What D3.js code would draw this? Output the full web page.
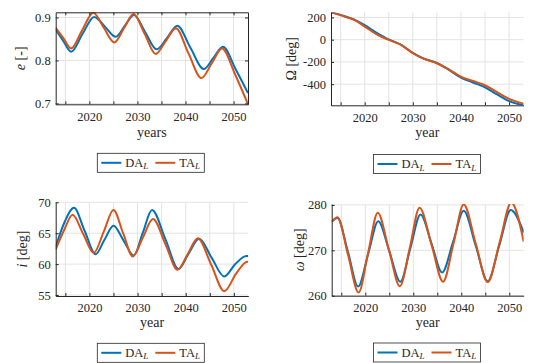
<!DOCTYPE html>
<html>
<head>
<meta charset="utf-8">
<script src="https://cdnjs.cloudflare.com/ajax/libs/d3/7.8.5/d3.min.js"></script>
<style>
  body { margin: 0; background: #fff; }
  .axis path, .axis line { stroke: #262626; }
  .grid line { stroke: #e3e3e3; stroke-width: 1; }
</style>
</head>
<body>
<div id="chart"></div>
<script>
// Eccentricity
var eYearsDA = [2013, 2014.6, 2016.2, 2018.6, 2021, 2023.3, 2025.5, 2027.4, 2029.3, 2031.6, 2034, 2036.2, 2038.3, 2041, 2043.8, 2045.8, 2047.8, 2050.4, 2053];
var eDA = [0.872, 0.845, 0.820, 0.862, 0.901, 0.878, 0.855, 0.881, 0.906, 0.866, 0.826, 0.853, 0.881, 0.830, 0.780, 0.806, 0.832, 0.780, 0.724];
var eYearsTA = [2013, 2014.6, 2016.2, 2018.5, 2020.8, 2023, 2025.2, 2027.2, 2029.2, 2031.5, 2033.8, 2035.9, 2038, 2040.6, 2043.3, 2045.5, 2047.6, 2050.3, 2053];
var eTA = [0.876, 0.852, 0.828, 0.870, 0.911, 0.876, 0.842, 0.875, 0.908, 0.862, 0.815, 0.845, 0.875, 0.817, 0.759, 0.794, 0.828, 0.768, 0.698];

// RAAN
var omYears = [2013, 2016, 2018, 2020, 2022.5, 2025, 2027.5, 2030, 2032, 2035, 2037, 2040, 2042.5, 2045, 2047.5, 2050, 2053];
var bigOmDA = [246, 208, 178, 130, 62, 2, -45, -118, -165, -210, -258, -340, -385, -428, -492, -552, -590];
var bigOmTA = [246, 205, 174, 118, 48, -2, -45, -122, -166, -212, -255, -333, -372, -410, -472, -533, -575];

// Inclination
var iYearsDA = [2013, 2014.9, 2016.8, 2019, 2021.3, 2023.1, 2025, 2027.1, 2029.2, 2031.1, 2033, 2035.8, 2038.5, 2040.6, 2042.8, 2045.4, 2048, 2050.3, 2052.6, 2053];
var iDA = [62.8, 66.9, 69.1, 65.4, 61.6, 63.9, 66.2, 63.8, 61.4, 65.1, 68.75, 64.0, 59.2, 61.7, 64.1, 61.0, 58.0, 60.0, 61.3, 61.3];
var iYearsTA = [2013, 2014.8, 2016.5, 2018.7, 2020.9, 2023, 2025, 2027, 2029, 2031.1, 2033.2, 2035.8, 2038.3, 2040.4, 2042.5, 2045.3, 2048, 2050.5, 2052.8, 2053];
var iTA = [62.4, 65.6, 68.0, 64.9, 61.8, 65.3, 68.75, 65.0, 61.25, 64.3, 67.3, 63.2, 59.1, 61.6, 64.2, 59.9, 55.6, 58.5, 60.4, 60.4];

// Argument of perigee
var wYearsDA = [2013, 2014.2, 2016.4, 2018.5, 2020.6, 2022.7, 2025, 2027.3, 2029.4, 2031.5, 2033.8, 2036, 2038.3, 2040.5, 2043, 2045.5, 2047.9, 2050.3, 2053];
var wDA = [276.3, 277.1, 269.6, 262.0, 269.2, 276.4, 269.8, 263.1, 270.5, 277.9, 271.5, 265.1, 271.9, 278.7, 271.0, 263.2, 271.0, 278.9, 273.9];
var wYearsTA = [2013, 2014.2, 2016.4, 2018.6, 2020.6, 2022.6, 2024.9, 2027.2, 2029.3, 2031.3, 2033.8, 2036.2, 2038.4, 2040.5, 2043, 2045.5, 2048, 2050.4, 2053];
var wTA = [276.3, 277.3, 269.0, 260.7, 269.5, 278.3, 270.2, 262.1, 270.7, 279.4, 271.2, 263.1, 271.6, 280.1, 271.5, 263.0, 271.8, 280.5, 271.9];

var xTicks = [2015, 2020, 2025, 2030, 2035, 2040, 2045, 2050];
var xLabels = [2020, 2030, 2040, 2050];
var seriesNames = ['DA', 'TA'];
var colors = ['#0072BD', '#D95319'];

var FONT = '"Liberation Serif", "DejaVu Serif", serif';

var svg = d3.select('#chart').append('svg')
    .attr('width', 534)
    .attr('height', 363)
    .style('font-family', FONT);

var zip = (xs, ys) => xs.map((x, k) => [x, ys[k]]);

function drawPanel(p, idx) {
    var w = p.r - p.l, h = p.b - p.t;
    var g = svg.append('g').attr('transform', `translate(${p.l},${p.t})`);

    var x = d3.scaleLinear().domain([2013, 2053]).range([0, w]);
    var y = d3.scaleLinear().domain(p.yDomain).range([h, 0]);

    // grid
    g.append('g').attr('class', 'grid').selectAll('line').data(xTicks).enter().append('line')
        .attr('x1', (d) => x(d)).attr('x2', (d) => x(d)).attr('y1', 0).attr('y2', h);
    g.append('g').attr('class', 'grid').selectAll('line').data(p.yTicks).enter().append('line')
        .attr('y1', (d) => y(d)).attr('y2', (d) => y(d)).attr('x1', 0).attr('x2', w);

    // clip for curves
    g.append('clipPath').attr('id', 'clip' + idx).append('rect')
        .attr('width', w).attr('height', h);

    var line = d3.line().x((d) => x(d[0])).y((d) => y(d[1])).curve(d3.curveMonotoneX);
    g.append('g').attr('clip-path', `url(#clip${idx})`).selectAll('path').data(p.series).enter().append('path')
        .attr('d', (d) => line(d))
        .attr('fill', 'none')
        .attr('stroke', (d, k) => colors[k])
        .attr('stroke-width', 2);

    // axes, ticks pointing inward
    var xAxis = d3.axisBottom(x).tickValues(xTicks).tickSizeInner(-3).tickSizeOuter(0).tickPadding(7.5)
        .tickFormat((d) => xLabels.indexOf(d) >= 0 ? d : '');
    g.append('g').attr('class', 'axis').attr('transform', `translate(0,${h})`).call(xAxis);

    var yAxis = d3.axisLeft(y).tickValues(p.yTicks).tickSizeInner(-3).tickSizeOuter(0).tickPadding(5)
        .tickFormat(p.fmt);
    g.append('g').attr('class', 'axis').call(yAxis);

    if (p.box) {
        g.append('g').attr('class', 'axis')
            .call(d3.axisTop(x).tickValues(xTicks).tickSizeInner(-3).tickSizeOuter(0).tickFormat(''));
        g.append('g').attr('class', 'axis').attr('transform', `translate(${w},0)`)
            .call(d3.axisRight(y).tickValues(p.yTicks).tickSizeInner(-3).tickSizeOuter(0).tickFormat(''));
    }
    g.selectAll('.axis').attr('font-family', FONT).attr('font-size', 12.5);
    g.selectAll('.axis text').attr('fill', '#262626');

    // x label
    svg.append('text')
        .attr('x', (p.l + p.r) / 2).attr('y', p.xlabY)
        .attr('text-anchor', 'middle').attr('font-size', 14).attr('fill', '#262626')
        .text(p.xlab);

    // y label
    var yl = svg.append('text')
        .attr('transform', `translate(${p.ylabX},${(p.t + p.b) / 2}) rotate(-90)`)
        .attr('text-anchor', 'middle').attr('font-size', 14).attr('fill', '#262626');
    yl.append('tspan').style('font-style', p.symItalic ? 'italic' : 'normal').text(p.sym);
    yl.append('tspan').text(' [' + p.unit + ']');

    // legend
    var lg = svg.append('g').attr('transform', `translate(${p.legX},${p.legY})`);
    lg.append('rect').attr('width', 107).attr('height', 19)
        .attr('fill', '#fff').attr('stroke', '#262626').attr('stroke-width', 0.8);
    seriesNames.forEach((name, k) => {
        var ox = 4 + k * 54;
        lg.append('line').attr('x1', ox).attr('x2', ox + 20).attr('y1', 9.5).attr('y2', 9.5)
            .attr('stroke', colors[k]).attr('stroke-width', 2);
        var t = lg.append('text').attr('x', ox + 24).attr('y', 13.5)
            .attr('font-size', 12.5).attr('fill', '#262626');
        t.append('tspan').text(name);
        t.append('tspan').attr('dy', 2.5).attr('font-size', 9).style('font-style', 'italic').text('L');
    });
}

var panels = [
    {l: 55.7, r: 248, t: 12.3, b: 104.3, yDomain: [0.698, 0.912], yTicks: [0.7, 0.8, 0.9], fmt: d3.format('.1f'),
     series: [zip(eYearsDA, eDA), zip(eYearsTA, eTA)], box: true,
     xlab: 'years', xlabY: 137, ylabX: 25, sym: 'e', symItalic: true, unit: '-', legX: 97.3, legY: 153.3},
    {l: 331, r: 523.5, t: 12.3, b: 105.3, yDomain: [-590, 246], yTicks: [-400, -200, 0, 200], fmt: (d) => d < 0 ? '-' + (-d) : d,
     series: [zip(omYears, bigOmDA), zip(omYears, bigOmTA)], box: false,
     xlab: 'year', xlabY: 137, ylabX: 295.5, sym: '\u03A9', symItalic: false, unit: 'deg', legX: 373.5, legY: 154.5},
    {l: 55.7, r: 248.3, t: 202.3, b: 296, yDomain: [54.84, 70], yTicks: [55, 60, 65, 70], fmt: d3.format('d'),
     series: [zip(iYearsDA, iDA), zip(iYearsTA, iTA)], box: false,
     xlab: 'year', xlabY: 327, ylabX: 27, sym: 'i', symItalic: true, unit: 'deg', legX: 97.3, legY: 343.3},
    {l: 331.7, r: 523.7, t: 204, b: 295.7, yDomain: [260, 280.2], yTicks: [260, 270, 280], fmt: d3.format('d'),
     series: [zip(wYearsDA, wDA), zip(wYearsTA, wTA)], box: false,
     xlab: 'year', xlabY: 327, ylabX: 303.5, sym: '\u03C9', symItalic: true, unit: 'deg', legX: 373.5, legY: 343}
];

panels.forEach((p, k) => drawPanel(p, k));
</script>
</body>
</html>
